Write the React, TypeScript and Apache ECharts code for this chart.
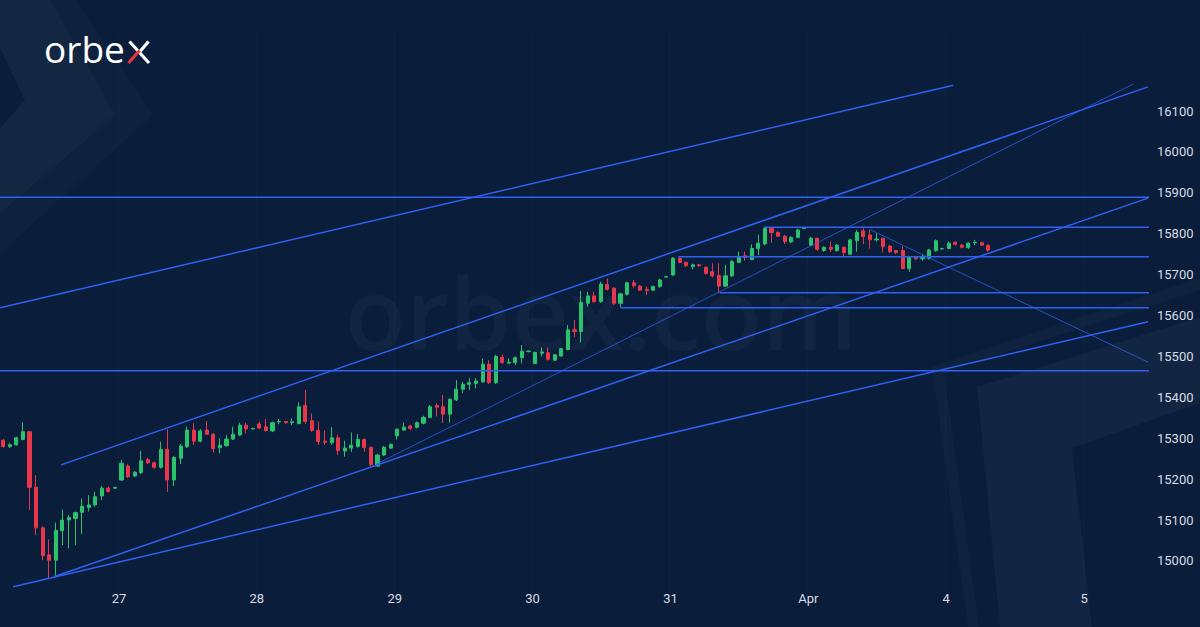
import React, { useEffect, useRef } from 'react';
import * as echarts from 'echarts';

// ---- categories (hourly bars per trading day) ----
const dayNames = ['24', '27', '28', '29', '30', '31', 'Apr', '4', '5'];
const dayBars = [18, 21, 21, 21, 21, 21, 21, 21, 10];

// ---- OHLC values (hourly) ----
const open = [
  15295, 15280, 15284, 15297, 15316, 15180, 15081, 15015, 15002, 15074,
  15100, 15104, 15119, 15131, 15137, 15159, 15178, 15178, 15198, 15232,
  15208, 15216, 15248, 15240, 15229, 15273, 15198, 15251, 15279, 15320,
  15293, 15320, 15310, 15277, 15282, 15298, 15308, 15332, 15323, 15335,
  15328, 15318, 15340, 15341, 15338, 15336, 15380, 15343, 15319, 15293,
  15289, 15301, 15269, 15276, 15280, 15297, 15278, 15232, 15259, 15276,
  15306, 15320, 15330, 15327, 15337, 15351, 15380, 15377, 15359, 15394,
  15420, 15432, 15434, 15438, 15481, 15436, 15498, 15484, 15485, 15497,
  15512, 15483, 15508, 15509, 15491, 15501, 15517, 15565, 15561, 15630,
  15648, 15634, 15676, 15667, 15630, 15652, 15680, 15672, 15664, 15662,
  15671, 15694, 15699, 15740, 15730, 15720, 15724, 15718, 15707, 15698,
  15672, 15697, 15730, 15746, 15737, 15764, 15775, 15813, 15803, 15794,
  15780, 15791, 15813, 15772, 15789, 15759, 15767, 15759, 15767, 15750,
  15783, 15807, 15797, 15785, 15789, 15770, 15759, 15759, 15715, 15742,
  15739, 15740, 15759, 15763, 15764, 15779, 15772, 15766, 15778, 15778,
  15772,
];
const high = [
  15298, 15288, 15304, 15339, 15318, 15210, 15085, 15053, 15094, 15126,
  15112, 15121, 15152, 15161, 15169, 15183, 15182, 15181, 15247, 15236,
  15220, 15269, 15252, 15243, 15292, 15322, 15256, 15286, 15328, 15337,
  15322, 15342, 15312, 15300, 15308, 15328, 15338, 15338, 15326, 15341,
  15347, 15341, 15347, 15342, 15349, 15388, 15418, 15361, 15341, 15319,
  15327, 15308, 15294, 15314, 15310, 15300, 15280, 15262, 15281, 15287,
  15324, 15339, 15333, 15341, 15355, 15381, 15385, 15406, 15398, 15442,
  15438, 15447, 15447, 15495, 15491, 15504, 15505, 15495, 15500, 15528,
  15515, 15512, 15522, 15522, 15506, 15521, 15577, 15589, 15660, 15658,
  15658, 15683, 15691, 15669, 15655, 15683, 15687, 15675, 15671, 15673,
  15690, 15697, 15743, 15742, 15732, 15727, 15726, 15720, 15728, 15728,
  15724, 15736, 15756, 15756, 15774, 15797, 15817, 15816, 15806, 15797,
  15794, 15812, 15816, 15792, 15790, 15769, 15781, 15775, 15769, 15787,
  15809, 15813, 15809, 15801, 15790, 15772, 15760, 15770, 15745, 15746,
  15750, 15763, 15786, 15766, 15781, 15781, 15775, 15779, 15785, 15781,
  15774,
];
const low = [
  15277, 15276, 15282, 15295, 15125, 15064, 15002, 14958, 14962, 15039,
  15031, 15039, 15066, 15121, 15133, 15149, 15167, 15177, 15196, 15203,
  15205, 15213, 15237, 15226, 15226, 15169, 15183, 15237, 15277, 15283,
  15290, 15308, 15265, 15263, 15279, 15296, 15305, 15312, 15321, 15322,
  15316, 15315, 15334, 15336, 15332, 15334, 15335, 15316, 15284, 15284,
  15284, 15259, 15255, 15267, 15277, 15267, 15232, 15231, 15257, 15274,
  15297, 15318, 15320, 15324, 15334, 15349, 15353, 15337, 15338, 15391,
  15410, 15418, 15422, 15436, 15433, 15433, 15482, 15482, 15479, 15483,
  15510, 15481, 15500, 15490, 15489, 15499, 15515, 15547, 15534, 15622,
  15631, 15631, 15661, 15626, 15620, 15649, 15667, 15660, 15650, 15660,
  15668, 15693, 15697, 15728, 15719, 15713, 15719, 15700, 15693, 15656,
  15670, 15694, 15728, 15734, 15735, 15748, 15772, 15778, 15792, 15775,
  15777, 15789, 15811, 15770, 15758, 15756, 15756, 15756, 15745, 15748,
  15756, 15775, 15764, 15781, 15754, 15753, 15750, 15713, 15707, 15736,
  15734, 15737, 15756, 15761, 15762, 15771, 15764, 15763, 15772, 15770,
  15756,
];
const close = [
  15280, 15284, 15301, 15316, 15180, 15081, 15013, 15002, 15075, 15100,
  15106, 15118, 15134, 15137, 15157, 15178, 15170, 15180, 15239, 15206,
  15217, 15245, 15240, 15229, 15273, 15198, 15253, 15281, 15320, 15293,
  15318, 15310, 15275, 15283, 15298, 15310, 15332, 15323, 15324, 15325,
  15319, 15338, 15341, 15338, 15340, 15377, 15341, 15319, 15292, 15290,
  15301, 15270, 15276, 15283, 15297, 15277, 15236, 15259, 15278, 15285,
  15322, 15327, 15324, 15338, 15351, 15377, 15376, 15359, 15395, 15420,
  15432, 15436, 15440, 15481, 15436, 15500, 15485, 15486, 15497, 15513,
  15513, 15510, 15511, 15493, 15504, 15519, 15565, 15561, 15632, 15648,
  15634, 15677, 15664, 15630, 15653, 15680, 15673, 15662, 15661, 15671,
  15687, 15695, 15740, 15730, 15722, 15724, 15722, 15703, 15697, 15672,
  15697, 15732, 15744, 15742, 15764, 15777, 15813, 15803, 15794, 15781,
  15791, 15809, 15814, 15789, 15762, 15767, 15762, 15772, 15754, 15785,
  15803, 15793, 15785, 15787, 15768, 15756, 15754, 15715, 15742, 15739,
  15744, 15760, 15783, 15764, 15777, 15774, 15767, 15777, 15779, 15772,
  15760,
];

// ---- price axis ----
const priceMin = 14900;
const priceMax = 16300;
const priceStep = 100;
const labelFrom = 15000;
const labelTo = 16100;

// ---- drawn trend / level lines: [bar index, price, bar index, price] ----
const thickLines = [
  [-0.5, 15619, 144.7, 16163],
  [8.8, 15235, 174.35, 16159],
  [-0.5, 15889, 174.5, 15889],
  [115.9, 15816, 174.5, 15816],
  [102.8, 15744, 174.5, 15744],
  [109.1, 15656, 174.5, 15656],
  [94.0, 15619, 174.5, 15619],
  [-0.5, 15465, 174.5, 15465],
  [7.8, 14962, 174.35, 15887],
  [1.5, 14937, 174.35, 15585],
];
const thinLines = [
  [56.6, 15235, 172.1, 16166],
  [131.9, 15811, 174.35, 15486],
];

const BG = '#0a1e3c';
const UP = '#2bc26b';
const DOWN = '#e8374a';
const LINE = '#2e61f2';
const TEXT = '#d8dbe2';

export default function App() {
  const ref = useRef<HTMLDivElement>(null);

  useEffect(() => {
    const categories: string[] = [];
    const dayStart: number[] = [];
    dayNames.forEach((d, k) => {
      dayStart.push(categories.length);
      for (let h = 0; h < dayBars[k]; h++) categories.push(d + '|' + h);
    });
    const total = categories.length;
    const candles = open.map((o, i) => [o, close[i], low[i], high[i]]);

    const lineSeries: any[] = [];
    thickLines.forEach((l) => {
      lineSeries.push({
        type: 'line',
        xAxisIndex: 1,
        yAxisIndex: 0,
        data: [[l[0], l[1]], [l[2], l[3]]],
        symbol: 'none',
        silent: true,
        z: 4,
        lineStyle: { color: LINE, width: 1.5 },
      });
    });
    thinLines.forEach((l) => {
      lineSeries.push({
        type: 'line',
        xAxisIndex: 1,
        yAxisIndex: 0,
        data: [[l[0], l[1]], [l[2], l[3]]],
        symbol: 'none',
        silent: true,
        z: 4,
        lineStyle: { color: LINE, width: 1, opacity: 0.75 },
      });
    });

    const chart = echarts.init(ref.current!, undefined, { renderer: 'svg' });
    chart.setOption({
      animation: false,
      backgroundColor: BG,
      graphic: [
        { type: 'polygon', z: -5, silent: true, shape: { points: [[0, 0], [75, 0], [153, 115], [0, 253]] }, style: { fill: 'rgba(255,255,255,0.018)' } },
        { type: 'polygon', z: -5, silent: true, shape: { points: [[0, 0], [50, 0], [115, 115], [0, 213]] }, style: { fill: 'rgba(255,255,255,0.022)' } },
        { type: 'polygon', z: -5, silent: true, shape: { points: [[0, 48], [25, 100], [0, 128]] }, style: { fill: BG } },
        { type: 'polygon', z: -5, silent: true, shape: { points: [[932, 367], [1200, 278], [1200, 290], [944, 372], [979, 627], [968, 627]] }, style: { fill: 'rgba(255,255,255,0.025)' } },
        { type: 'polygon', z: -5, silent: true, shape: { points: [[977, 387], [1200, 317], [1200, 627], [1000, 627]] }, style: { fill: 'rgba(255,255,255,0.035)' } },
        { type: 'polygon', z: -5, silent: true, shape: { points: [[1072, 448], [1200, 403], [1200, 627], [1092, 627]] }, style: { fill: BG } },
        {
          type: 'text', z: -4, silent: true, x: 601, y: 311,
          style: { text: 'orbex.com', fill: 'rgba(255,255,255,0.032)', font: '600 100px "Open Sans"', align: 'center', verticalAlign: 'middle' },
        },
        {
          type: 'text', z: 10, x: 44, y: 48,
          style: { text: 'orbe', fill: '#ffffff', font: '400 37px "Open Sans"', align: 'left', verticalAlign: 'middle' },
        },
        { type: 'line', z: 10, shape: { x1: 129.5, y1: 41.5, x2: 149, y2: 63 }, style: { stroke: '#ffffff', lineWidth: 3.2 } },
        { type: 'line', z: 10, shape: { x1: 140, y1: 51.5, x2: 148.5, y2: 41.5 }, style: { stroke: '#ffffff', lineWidth: 3.2 } },
        { type: 'line', z: 11, shape: { x1: 128.5, y1: 63, x2: 139.5, y2: 50.5 }, style: { stroke: '#e8323f', lineWidth: 3.2 } },
      ],
      grid: { left: -3, right: 51, top: 29.2, bottom: 25.1, containLabel: false },
      xAxis: [
        {
          type: 'category',
          data: categories,
          boundaryGap: true,
          offset: -10,
          axisLine: { show: false },
          axisTick: { show: false },
          splitLine: { show: false },
          axisLabel: {
            margin: 0,
            color: TEXT,
            fontSize: 13,
            fontFamily: 'Roboto',
            padding: [0, 5, 0, 0],
            interval: (index: number) => index > 0 && dayStart.indexOf(index) >= 0,
            formatter: (v: string) => v.split('|')[0],
          },
        },
        { type: 'value', min: -0.5, max: total - 0.5, show: false },
      ],
      yAxis: {
        type: 'value',
        position: 'right',
        min: priceMin,
        max: priceMax,
        interval: priceStep,
        axisLine: { show: false },
        axisTick: { show: false },
        splitLine: { show: false },
        axisLabel: {
          margin: 8,
          color: TEXT,
          fontSize: 13,
          fontFamily: 'Roboto',
          formatter: (v: number) => (v >= labelFrom && v <= labelTo ? String(v) : ''),
        },
      },
      series: [
        {
          type: 'line',
          xAxisIndex: 1,
          yAxisIndex: 0,
          data: [],
          silent: true,
          z: 1,
          markLine: {
            silent: true,
            symbol: ['none', 'none'],
            label: { show: false },
            lineStyle: { color: 'rgba(255,255,255,0.02)', width: 1, type: 'solid' },
            data: dayStart.filter((s) => s > 0).map((s) => ({ xAxis: s - 0.5 })),
          },
        },
        {
          type: 'candlestick',
          xAxisIndex: 0,
          yAxisIndex: 0,
          data: candles,
          barWidth: 3.6,
          z: 3,
          itemStyle: {
            color: UP,
            color0: DOWN,
            borderColor: UP,
            borderColor0: DOWN,
            borderWidth: 1,
          },
        },
        ...lineSeries,
      ],
    });
    return () => chart.dispose();
  }, []);

  return <div ref={ref} style={{ position: 'fixed', left: 0, top: 0, width: 1200, height: 627 }} />;
}
